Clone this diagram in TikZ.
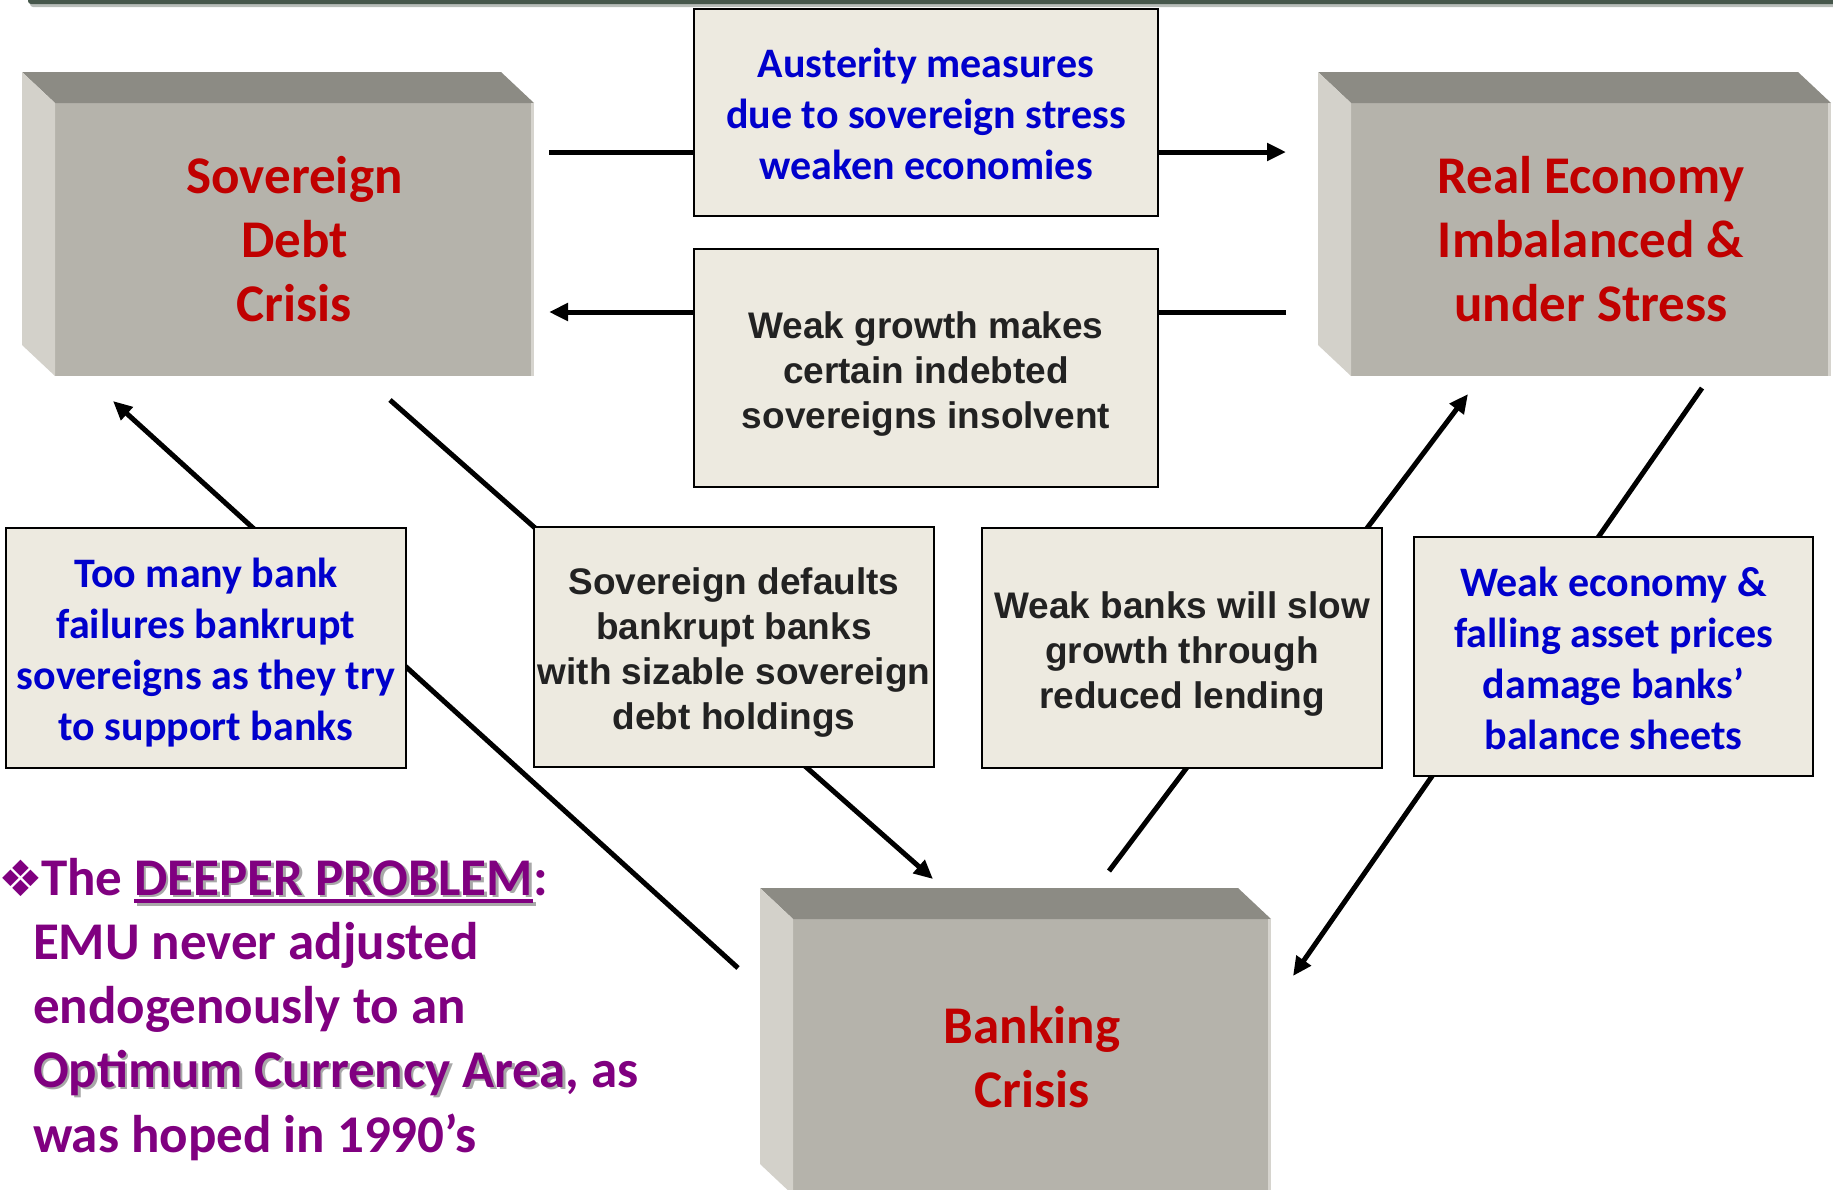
\documentclass[tikz,border=0pt]{standalone}
\usepackage{fontspec}
\setmainfont{Carlito}
\newfontfamily\arialfont{Liberation Sans}
\newfontfamily\symfont{DejaVu Sans}
\usetikzlibrary{arrows.meta,backgrounds}
\definecolor{redtxt}{HTML}{C00000}
\definecolor{bluetxt}{HTML}{0000CC}
\definecolor{purptxt}{HTML}{800080}
\definecolor{darktxt}{HTML}{222222}
\definecolor{cream}{HTML}{EDEAE0}
\definecolor{frontc}{HTML}{B5B3AB}
\definecolor{topc}{HTML}{8C8B84}
\definecolor{leftc}{HTML}{D3D1CA}
\definecolor{edgec}{HTML}{D6D4CE}
\definecolor{barc}{HTML}{46574B}
\definecolor{barshadow}{HTML}{B8BDB9}
\definecolor{shadowc}{HTML}{A8A8A8}
\newif\ifshadowpass
\newcommand\shd[1]{\ifshadowpass{\color{shadowc}#1}\else#1\fi}
\newcommand\nsh[1]{\ifshadowpass\phantom{#1}\else#1\fi}
\newcommand\myul[1]{\setbox0\hbox{#1}\rlap{\rule[-8pt]{\wd0}{4pt}}\box0}
\newcommand\threeDbox[6]{%
  \node[front, minimum width=#4pt, minimum height=#5pt] (#1) at (#2,#3) {#6};
  \fill[topc] (#1.north west) -- ++(-33,-31) -- ([shift={(-33,-31)}]#1.north east) -- (#1.north east) -- cycle;
  \fill[leftc] (#1.north west) -- ++(-33,-31) -- ([shift={(-33,-31)}]#1.south west) -- (#1.south west) -- cycle;
  \draw[edgec, line width=3pt] ([xshift=-1.5pt]#1.north east) -- ([xshift=-1.5pt]#1.south east);
}
\begin{document}
\begin{tikzpicture}[x=1pt,y=-1pt,
  front/.style={fill=frontc, inner sep=0pt, outer sep=0pt, align=center, text=redtxt,
    font=\bfseries\fontsize{53}{64}\selectfont},
  tbox/.style={draw=black, line width=2.5pt, fill=cream, inner sep=0pt, outer sep=0pt},
  bluefont/.style={align=center, inner sep=0pt, text=bluetxt, font=\bfseries\fontsize{42}{51}\selectfont},
  darkfont/.style={align=center, inner sep=0pt, text=darktxt, font=\arialfont\bfseries\fontsize{37}{45}\selectfont},
  purp/.style={anchor=base west, inner sep=0pt, outer sep=0pt, text=purptxt,
    font=\bfseries\fontsize{53}{64}\selectfont},
  conn/.style={line width=5pt, -{Triangle[length=19pt,width=17pt]}}]
\useasboundingbox (0,0) rectangle (1833,1189);
\clip (0,0) rectangle (1833,1189);

% top bar
\fill[barshadow, rounded corners=3pt] (30,-4) rectangle (1840,7);
\fill[barc, rounded corners=3pt] (28,-4) rectangle (1840,4);

% 3D boxes
\threeDbox{SD}{294.5}{239.5}{479}{273}{Sovereign\\Debt\\Crisis}
\threeDbox{RE}{1591}{239.5}{480}{273}{Real Economy\\Imbalanced \&\\under Stress}
\threeDbox{BC}{1032}{1057}{478}{276}{Banking\\Crisis}

% text boxes
\node[tbox, minimum width=464pt, minimum height=207pt] (A) at (926,112.5) {};
\node[bluefont] (At) at ([yshift=-1pt]A.center) {Austerity measures\\due to sovereign stress\\weaken economies};
\node[tbox, minimum width=464pt, minimum height=238pt] (W) at (926,368) {};
\node[darkfont] (Wt) at ([yshift=-6pt]W.center) {Weak growth makes\\certain indebted\\sovereigns insolvent};
\node[tbox, minimum width=400pt, minimum height=240pt] (T) at (206,648) {};
\node[bluefont] (Tt) at ([yshift=-5pt]T.center) {Too many bank\\failures bankrupt\\sovereigns as they try\\to support banks};
\node[tbox, minimum width=400pt, minimum height=240pt] (S) at (734,647) {};
\node[darkfont] (St) at ([yshift=-6pt]S.center) {Sovereign defaults\\bankrupt banks\\with sizable sovereign\\debt holdings};
\node[tbox, minimum width=400pt, minimum height=240pt] (B) at (1182,648) {};
\node[darkfont] (Bt) at ([yshift=-6pt]B.center) {Weak banks will slow\\growth through\\reduced lending};
\node[tbox, minimum width=399pt, minimum height=239pt] (E) at (1613.5,656.5) {};
\node[bluefont] (Et) at ([yshift=-2pt]E.center) {Weak economy \&\\falling asset prices\\damage banks’\\balance sheets};

% connectors (behind boxes)
\coordinate (c1a) at (549,152);  \coordinate (c1b) at (1286,152);
\coordinate (c2a) at (1286,312); \coordinate (c2b) at (549,312);
\coordinate (c3a) at (738,968);  \coordinate (c3b) at (113,401);
\coordinate (c4a) at (390,400);  \coordinate (c4b) at (933,879);
\coordinate (c5a) at (1109,871); \coordinate (c5b) at (1468,394);
\coordinate (c6a) at (1702,388); \coordinate (c6b) at (1293,976);
\begin{pgfonlayer}{background}
\draw[conn] (c1a) -- (c1b);
\draw[conn] (c2a) -- (c2b);
\draw[conn] (c3a) -- (c3b);
\draw[conn] (c4a) -- (c4b);
\draw[conn] (c5a) -- (c5b);
\draw[conn] (c6a) -- (c6b);
\end{pgfonlayer}

% purple text with shadows
\node[anchor=base west, inner sep=0pt, text=purptxt, font=\symfont\fontsize{50}{50}\selectfont] (bul) at (-2,896) {❖};
\shadowpasstrue
\node[purp] (p1s) at (43.5,897.5) {\nsh{The}\ \shd{\myul{DEEPER PROBLEM}}\nsh{:}};
\node[purp] (p4s) at (35.5,1089.5) {\shd{Optimum Currency Area}\nsh{, as}};
\shadowpassfalse
\node[purp] (p1) at (41,895) {\nsh{The}\ \shd{\myul{DEEPER PROBLEM}}\nsh{:}};
\node[purp] (p2) at (33,959) {EMU never adjusted};
\node[purp] (p3) at (33,1023) {endogenously to an};
\node[purp] (p4) at (33,1087) {\shd{Optimum Currency Area}\nsh{, as}};
\node[purp] (p5) at (33,1152) {was hoped in 1990’s};
\end{tikzpicture}
\end{document}
